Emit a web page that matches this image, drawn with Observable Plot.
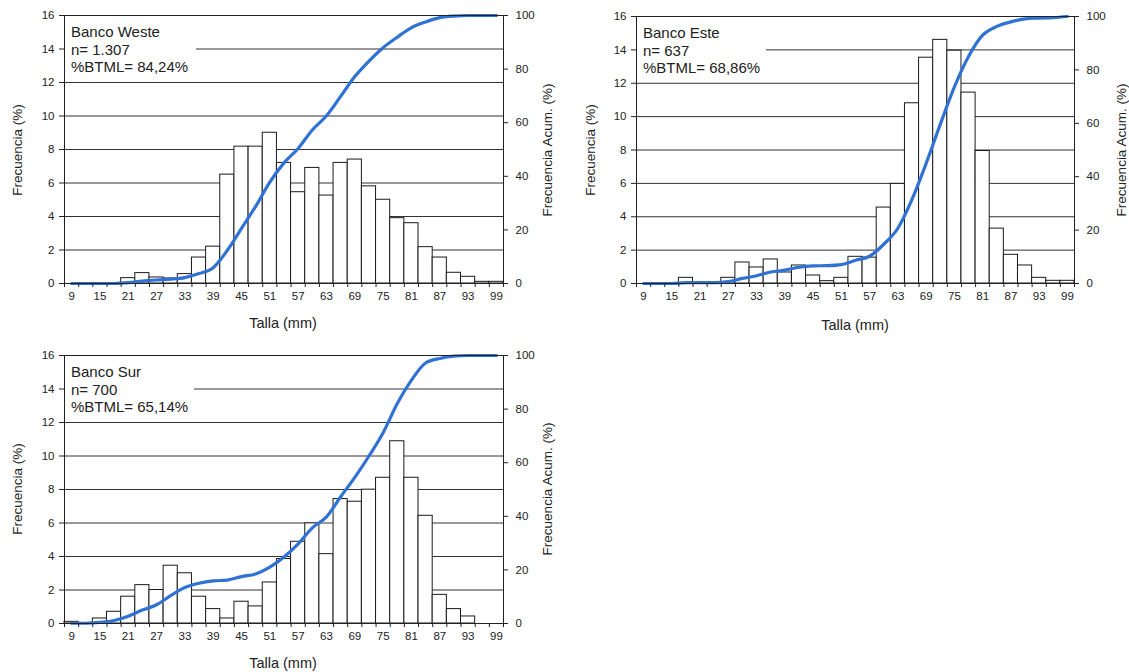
<!DOCTYPE html>
<html>
<head>
<meta charset="utf-8">
<script src="https://cdn.jsdelivr.net/npm/d3@7"></script>
<script src="https://cdn.jsdelivr.net/npm/@observablehq/plot@0.6"></script>
<style>
  html, body { margin: 0; padding: 0; background: #ffffff; overflow: hidden; }
  #root { position: relative; width: 1129px; height: 672px; font-family: "Liberation Sans", Arial, sans-serif; color: #222; }
  .panel { position: absolute; }
  .box { position: absolute; background: #ffffff; font-size: 15px; line-height: 17.7px; padding: 7px 0 0 6px; box-sizing: border-box; color: #222; white-space: nowrap; }
  .title { position: absolute; font-size: 14.5px; color: #222; white-space: nowrap; transform: translate(-50%, -50%); }
  .vtitle { position: absolute; font-size: 13.5px; color: #222; white-space: nowrap; transform: translate(-50%, -50%) rotate(-90deg); }
</style>
</head>
<body>
<div id="root"></div>
<script>
// ---- Data ----
const categories = [9, 12, 15, 18, 21, 24, 27, 30, 33, 36, 39, 42, 45, 48, 51, 54, 57, 60, 63, 66, 69, 72, 75, 78, 81, 84, 87, 90, 93, 96, 99];
const xTickLabels = [9, 15, 21, 27, 33, 39, 45, 51, 57, 63, 69, 75, 81, 87, 93, 99];
const leftTicks = [0, 2, 4, 6, 8, 10, 12, 14, 16];
const rightTicks = [0, 20, 40, 60, 80, 100];

const westeFreq = [0, 0, 0, 0, 0.32, 0.62, 0.36, 0.3, 0.56, 1.55, 2.2, 6.5, 8.17, 8.17, 9.0, 7.2, 5.45, 6.9, 5.25, 7.2, 7.4, 5.8, 5.0, 3.9, 3.6, 2.17, 1.55, 0.64, 0.4, 0.1, 0.1];
const westeCum  = [0, 0, 0, 0, 0.3, 0.9, 1.3, 1.6, 2.2, 3.7, 5.9, 12.4, 20.6, 28.8, 37.8, 45, 50.4, 57.3, 62.6, 69.8, 77.2, 83, 88, 91.9, 95.5, 97.6, 99.2, 99.8, 100, 100, 100];

const esteFreq = [0, 0, 0, 0.34, 0, 0, 0.34, 1.26, 0.96, 1.44, 0.66, 1.08, 0.48, 0.14, 0.34, 1.6, 1.55, 4.55, 5.97, 10.8, 13.53, 14.6, 13.95, 11.44, 7.94, 3.29, 1.72, 1.08, 0.34, 0.16, 0.16];
const esteCum  = [0, 0, 0, 0.3, 0.3, 0.3, 0.7, 1.9, 2.9, 4.3, 5, 6.1, 6.6, 6.7, 7.1, 8.7, 10.2, 14.7, 20.7, 31.5, 45, 59.6, 73.6, 85, 93, 96.3, 98, 99.1, 99.4, 99.6, 100];

const surFreq = [0.1, 0, 0.3, 0.7, 1.6, 2.29, 2.0, 3.45, 3.0, 1.6, 0.86, 0.3, 1.3, 1.02, 2.45, 3.85, 4.88, 5.98, 4.14, 7.43, 7.27, 7.99, 8.7, 10.88, 8.7, 6.43, 1.71, 0.86, 0.42, 0, 0];
const surCum  = [0.1, 0.1, 0.4, 1.1, 2.7, 5, 7, 10.4, 13.4, 15, 15.9, 16.2, 17.5, 18.5, 21, 24.8, 29.7, 35.7, 39.8, 47.3, 54.5, 62.5, 71.2, 82.1, 90.8, 97.2, 98.9, 99.8, 100, 100, 100];

const panels = [
  { name: "Banco Weste", n: "n= 1.307", btml: "%BTML= 84,24%", freq: westeFreq, cum: westeCum,
    left: 0, top: 0, mL: 64, mR: 57, mT: 15, mB: 57, boxW: 131, titleX: 283, titleY: 323, lX: 17, rX: 547, tY: 150 },
  { name: "Banco Este", n: "n= 637", btml: "%BTML= 68,86%", freq: esteFreq, cum: esteCum,
    left: 569, top: 0, mL: 67, mR: 55, mT: 16, mB: 57, boxW: 129, titleX: 855, titleY: 325, lX: 590, rX: 1121, tY: 150 },
  { name: "Banco Sur", n: "n= 700", btml: "%BTML= 65,14%", freq: surFreq, cum: surCum,
    left: 0, top: 340, mL: 64, mR: 57, mT: 15, mB: 57, boxW: 129, titleX: 283, titleY: 663, lX: 17, rX: 547, tY: 489 }
];

const binWidth = 3;
const yMax = leftTicks[leftTicks.length - 1];
const cumMax = rightTicks[rightTicks.length - 1];
const k = yMax / cumMax; // maps cumulative % onto the frequency scale
const edges = categories.map(c => c - binWidth / 2).concat([categories[categories.length - 1] + binWidth / 2]);
const font = "'Liberation Sans', Arial, sans-serif";
const root = document.getElementById("root");

for (const p of panels) {
  const rows = categories.map((c, i) => ({ c, f: p.freq[i], cum: p.cum[i] }));
  const W = 560, H = 340;
  const chart = Plot.plot({
    width: W, height: H,
    marginLeft: p.mL, marginRight: p.mR, marginTop: p.mT, marginBottom: p.mB,
    style: { fontFamily: font, fontSize: "11.5px", color: "#222", background: "transparent" },
    x: { domain: [edges[0], edges[edges.length - 1]] },
    y: { domain: [0, yMax] },
    marks: [
      Plot.ruleY(leftTicks, { stroke: "#333", strokeWidth: 1 }),
      Plot.rect(rows, { x1: d => d.c - binWidth / 2, x2: d => d.c + binWidth / 2, y1: 0, y2: "f", fill: "#ffffff", stroke: "#1a1a1a", strokeWidth: 1 }),
      Plot.line(rows, { x: "c", y: d => d.cum * k, stroke: "#2f72d4", strokeWidth: 3.2, curve: "monotone-x" }),
      Plot.frame({ stroke: "#222", strokeWidth: 1 }),
      Plot.axisY(leftTicks, { anchor: "left", tickSize: 5, tickPadding: 5, label: null, stroke: "#222" }),
      Plot.axisY(rightTicks.map(v => v * k), { anchor: "right", tickSize: 4, tickPadding: 8, label: null, tickFormat: d => Math.round(d / k), stroke: "#222" }),
      Plot.axisX(edges, { anchor: "bottom", tickSize: 4, tickFormat: () => "", label: null, stroke: "#222" }),
      Plot.axisX(xTickLabels, { anchor: "bottom", tickSize: 0, tickPadding: 8, label: null })
    ]
  });
  const holder = document.createElement("div");
  holder.className = "panel";
  holder.style.left = p.left + "px";
  holder.style.top = p.top + "px";
  holder.appendChild(chart);
  root.appendChild(holder);

  const box = document.createElement("div");
  box.className = "box";
  box.style.left = (p.left + p.mL + 1) + "px";
  box.style.top = (p.top + p.mT + 1) + "px";
  box.style.width = p.boxW + "px";
  box.style.height = "60px";
  box.innerHTML = `<div>${p.name}</div><div>${p.n}</div><div>${p.btml}</div>`;
  root.appendChild(box);

  const t = document.createElement("div");
  t.className = "title"; t.textContent = "Talla (mm)";
  t.style.left = p.titleX + "px"; t.style.top = p.titleY + "px";
  root.appendChild(t);

  const l = document.createElement("div");
  l.className = "vtitle"; l.textContent = "Frecuencia (%)";
  l.style.left = p.lX + "px"; l.style.top = p.tY + "px";
  root.appendChild(l);

  const r = document.createElement("div");
  r.className = "vtitle"; r.textContent = "Frecuencia Acum. (%)";
  r.style.left = p.rX + "px"; r.style.top = p.tY + "px";
  root.appendChild(r);
}
</script>
</body>
</html>
